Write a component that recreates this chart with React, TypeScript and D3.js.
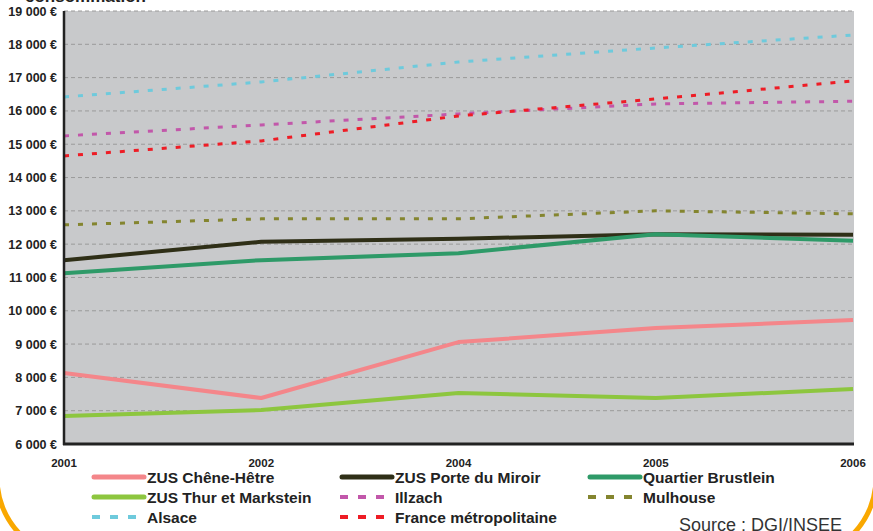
import React from "react";
import * as d3 from "d3";

const years = ["2001", "2002", "2004", "2005", "2006"];
const yTicks = [6000, 7000, 8000, 9000, 10000, 11000, 12000, 13000, 14000, 15000, 16000, 17000, 18000, 19000];

const seriesNames = [
  "ZUS Chêne-Hêtre",
  "ZUS Porte du Miroir",
  "Quartier Brustlein",
  "ZUS Thur et Markstein",
  "Illzach",
  "Mulhouse",
  "Alsace",
  "France métropolitaine",
];
const cheneHetre = [8130, 7380, 9060, 9480, 9720];
const porteMiroir = [11520, 12070, 12160, 12300, 12280];
const brustlein = [11130, 11520, 11730, 12300, 12100];
const thur = [6840, 7020, 7530, 7380, 7650];
const illzach = [15250, 15580, 15910, 16210, 16290];
const mulhouse = [12580, 12760, 12760, 13000, 12910];
const alsace = [16420, 16870, 17470, 17890, 18280];
const france = [14650, 15100, 15850, 16360, 16900];

const seriesValues = [cheneHetre, porteMiroir, brustlein, thur, illzach, mulhouse, alsace, france];
const seriesColors = ["#f4868a", "#2f2f17", "#2e9a68", "#8dc63f", "#c257aa", "#84852f", "#6ecadc", "#ee1c25"];
const seriesDashed = [false, false, false, false, true, true, true, true];

const FONT = "Liberation Sans, Arial, Helvetica, sans-serif";

export default function App() {
  const W = 873, H = 531;
  const left = 64, right = 853, top = 11, bottom = 444;
  const x = d3.scalePoint<string>().domain(years).range([left, right]);
  const y = d3.scaleLinear().domain([6000, 19000]).range([bottom, top]);
  const line = d3.line<number>().x((_, i) => x(years[i]) as number).y((v) => y(v));

  const legendCols = [92, 340, 588];
  const legendRows = [477, 497, 517];

  return (
    <svg width={W} height={H} style={{ position: "absolute", left: 0, top: 0, background: "#fff" }} fontFamily={FONT}>
      <rect x={0} y={0} width={W} height={H} fill="#fff" />
      {/* title fragment */}
      <text x={25} y={2} fontSize={17} fontWeight="bold" fill="#222">consommation</text>
      {/* plot background */}
      <rect x={left} y={top} width={right - left + 1} height={bottom - top} fill="#c8c9cb" />
      {yTicks.map((t) => (
        <line key={t} x1={left} x2={right + 1} y1={y(t)} y2={y(t)} stroke="#9a9a9a" strokeWidth={1} strokeDasharray="4,3" />
      ))}
      {yTicks.map((t) => (
        <text key={"l" + t} x={57} y={y(t) + 4.5} textAnchor="end" fontSize={12.5} fontWeight="bold" fill="#222">
          {d3.format(",")(t).replace(",", " ") + " €"}
        </text>
      ))}
      {years.map((yr) => (
        <text key={yr} x={x(yr)} y={467} textAnchor="middle" fontSize={11.5} fontWeight="bold" fill="#222">{yr}</text>
      ))}
      {seriesValues.map((vals, i) => (
        <path
          key={seriesNames[i]}
          d={line(vals) || ""}
          fill="none"
          stroke={seriesColors[i]}
          strokeWidth={seriesDashed[i] ? 3 : 4}
          strokeDasharray={seriesDashed[i] ? "5,9" : undefined}
          strokeLinejoin="round"
        />
      ))}
      <line x1={left} x2={left} y1={top} y2={bottom + 1} stroke="#222" strokeWidth={2.5} />
      <line x1={left - 1} x2={right + 1} y1={bottom} y2={bottom} stroke="#222" strokeWidth={3} />
      {/* legend */}
      {seriesNames.map((name, i) => {
        const col = i % 3;
        const row = Math.floor(i / 3);
        const lx = legendCols[col];
        const ly = legendRows[row];
        return (
          <g key={"lg" + name}>
            {seriesDashed[i] ? (
              <line x1={lx} x2={lx + 45} y1={ly} y2={ly} stroke={seriesColors[i]} strokeWidth={4} strokeDasharray="8,10" />
            ) : (
              <line x1={lx + 2} x2={lx + 52} y1={ly} y2={ly} stroke={seriesColors[i]} strokeWidth={5} strokeLinecap="round" />
            )}
            <text x={lx + 55} y={ly + 5.5} fontSize={15.5} fontWeight="bold" fill="#222">{name}</text>
          </g>
        );
      })}
      <text x={679} y={531} fontSize={18} fill="#333">Source : DGI/INSEE</text>
      {/* orange rounded frame */}
      <rect x={-3} y={-200} width={879} height={758} rx={80} ry={80} fill="none" stroke="#f9a800" strokeWidth={5} />
    </svg>
  );
}
